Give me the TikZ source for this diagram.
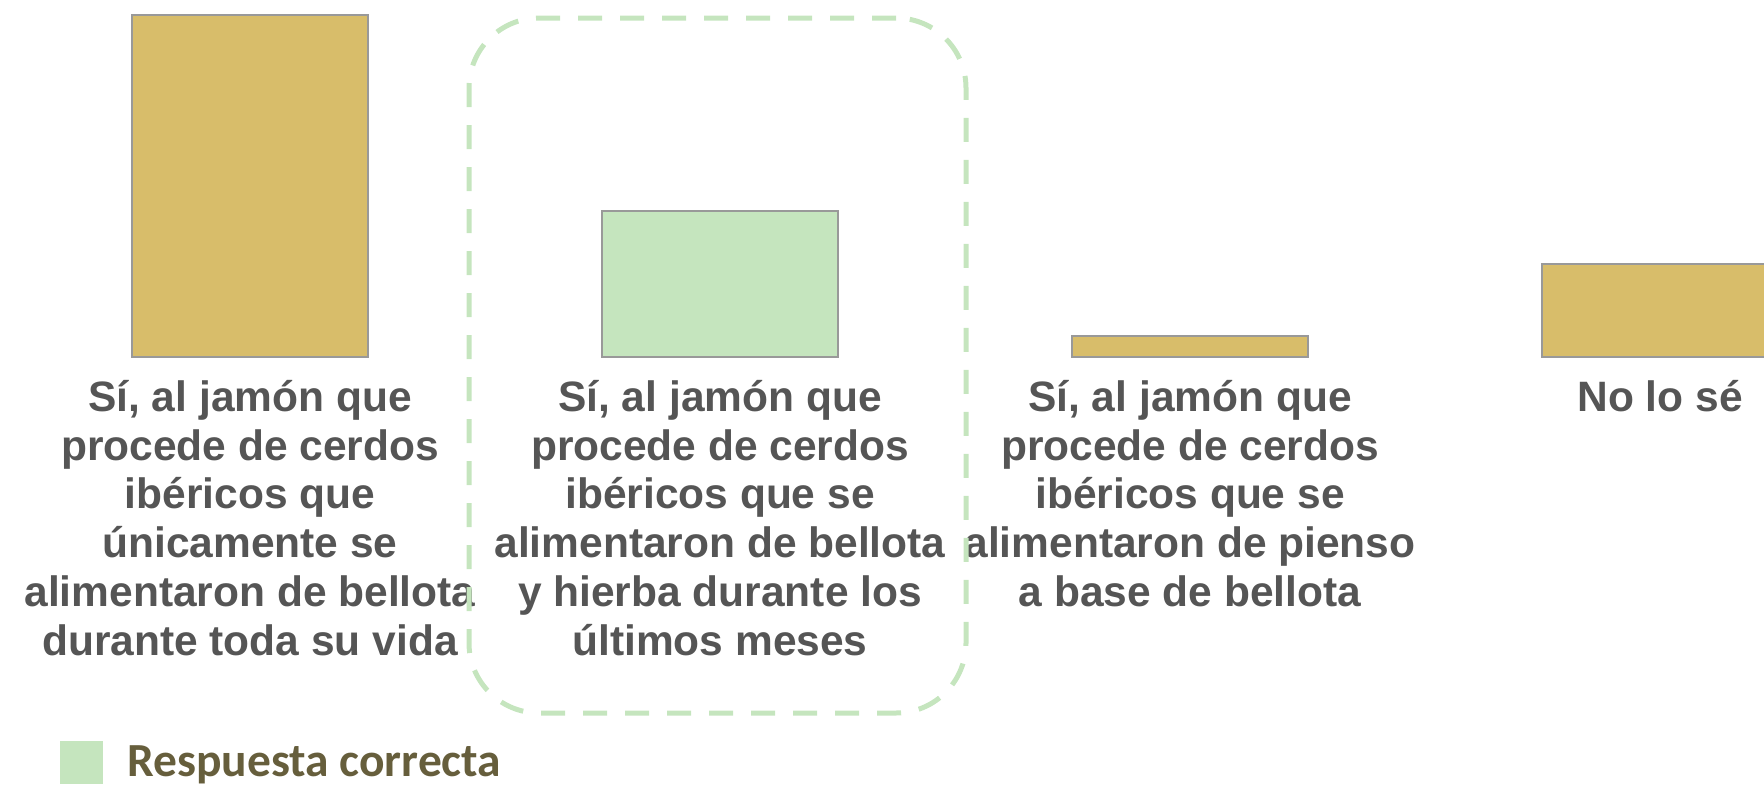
\documentclass[tikz,border=0pt]{standalone}
\usepackage{fontspec}
\setmainfont{Liberation Sans}
\newfontfamily\legendfont{Carlito}
\usetikzlibrary{positioning}

\definecolor{barGold}{HTML}{D8BD6A}
\definecolor{barGreen}{HTML}{C5E5BE}
\definecolor{labelGray}{HTML}{555555}
\definecolor{legendBrown}{HTML}{665E3C}

\tikzset{
    bar/.style={draw=gray!80, line width=2pt, minimum width=236pt, inner sep=0pt, outer sep=0pt, anchor=south},
    barlabel/.style={text=labelGray, font=\bfseries\fontsize{42.5}{48.8}\selectfont, align=center, inner sep=0pt, anchor=north},
}

\begin{document}
\begin{tikzpicture}[x=1pt, y=-1pt]
            \useasboundingbox (0,0) rectangle (1764,787);
            % bars
            \node[bar, fill=barGold, minimum height=342pt] (bar1) at (250,357) {};
            \node[bar, fill=barGreen, minimum height=146pt] (bar2) at (720,357) {};
            \node[bar, fill=barGold, minimum height=21pt] (bar3) at (1190,357) {};
            \node[bar, fill=barGold, minimum height=93pt] (bar4) at (1660,357) {};
            % labels
            \node[barlabel, below=23pt of bar1] (lab1) {S\'i, al jam\'on que\\procede de cerdos\\ib\'ericos que\\\'unicamente se\\alimentaron de bellota\\durante toda su vida};
            \node[barlabel, below=23pt of bar2] (lab2) {S\'i, al jam\'on que\\procede de cerdos\\ib\'ericos que se\\alimentaron de bellota\\y hierba durante los\\\'ultimos meses};
            \node[barlabel, below=23pt of bar3] (lab3) {S\'i, al jam\'on que\\procede de cerdos\\ib\'ericos que se\\alimentaron de pienso\\a base de bellota};
            \node[barlabel, below=23pt of bar4] (lab4) {No lo s\'e};
            % correct answer
            \node[draw=barGreen, line width=5pt, dash pattern=on 24pt off 18pt, rounded corners=70pt,
                  minimum width=497pt, minimum height=695pt] (correctbox) at (717.5,365.5) {};
            % legend
            \node[fill=barGreen, minimum size=43pt, inner sep=0pt] (legsq) at (81.5,762.5) {};
            \node[font=\legendfont\bfseries\fontsize{47.5}{56}\selectfont, text=legendBrown, anchor=base west, inner sep=0pt] (legtext) at (127,776) {Respuesta correcta};
        \end{tikzpicture}
\end{document}
